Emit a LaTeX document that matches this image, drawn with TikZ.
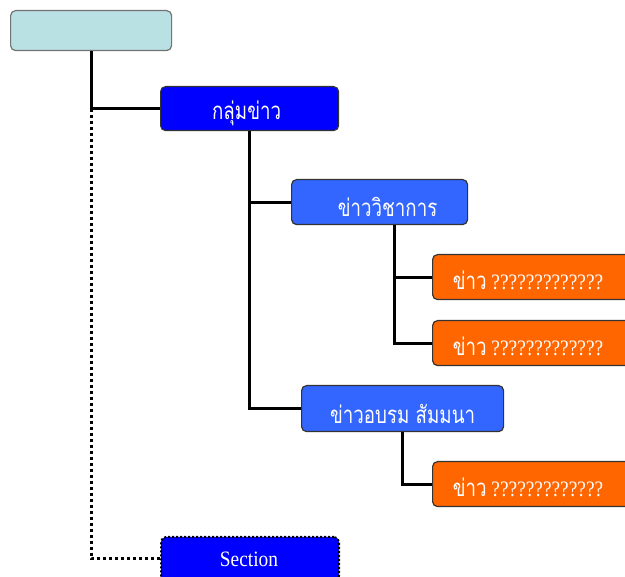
\documentclass[tikz,border=0pt]{standalone}
\usepackage{fontspec}
\setmainfont[FakeStretch=0.88]{Liberation Serif}
\newfontfamily\thai[Script=Thai,FakeStretch=0.78]{Loma}
\definecolor{lcyan}{HTML}{B9E0E3}
\definecolor{pblue}{HTML}{0000FF}
\definecolor{mblue}{HTML}{3366FF}
\definecolor{orng}{HTML}{FF6600}
\definecolor{bord}{HTML}{333333}
\tikzset{
  box/.style={draw=bord, line width=1.2pt, rounded corners=5pt, anchor=north west, inner sep=0pt, text=white},
  thtxt/.style={text=white, inner sep=0pt, font=\thai\fontsize{24}{26}\selectfont},
  oxtxt/.style={text=white, inner sep=0pt, font=\fontsize{22}{24}\selectfont},
  conn/.style={line width=3pt, black},
  dconn/.style={line width=3pt, black, dash pattern=on 3pt off 3pt},
}
\begin{document}
\begin{tikzpicture}[x=1pt,y=-1pt]
\useasboundingbox (0,0) rectangle (625,577);
\clip (0,0) rectangle (625,577);
\node[box, draw=gray!90!black, fill=lcyan, minimum width=161pt, minimum height=40pt] (top) at (10,10) {};
\node[box, fill=pblue, minimum width=178pt, minimum height=44pt] (grp) at (160,86) {};
\node[box, fill=mblue, minimum width=176pt, minimum height=45pt] (aca) at (291,179) {};
\node[box, fill=mblue, minimum width=202pt, minimum height=46pt] (trn) at (301,385) {};
\node[box, fill=orng, minimum width=200pt, minimum height=45pt] (o1) at (432,254) {};
\node[box, fill=orng, minimum width=200pt, minimum height=45pt] (o2) at (432,320) {};
\node[box, fill=orng, minimum width=200pt, minimum height=45pt] (o3) at (432,461) {};
\node[box, fill=pblue, draw=black, line width=2pt, dash pattern=on 2pt off 2pt, minimum width=178pt, minimum height=44pt] (sec) at (160,536) {};
\node[thtxt] (lg) at ([xshift=-3pt,yshift=-5pt]grp.center) {กลุ่มข่าว};
\node[thtxt] (la) at ([xshift=8pt,yshift=-5pt]aca.center) {ข่าววิชาการ};
\node[thtxt] (lt) at ([yshift=-5pt]trn.center) {ข่าวอบรม สัมมนา};
\node[oxtxt] (t1) at (528,280) {{\thai\fontsize{24}{26}\selectfont ข่าว} ?????????????};
\node[oxtxt] (t2) at (528,346) {{\thai\fontsize{24}{26}\selectfont ข่าว} ?????????????};
\node[oxtxt] (t3) at (528,487) {{\thai\fontsize{24}{26}\selectfont ข่าว} ?????????????};
\node[oxtxt] (ls) at ([xshift=-1pt]sec.center) {Section};
\coordinate (j1) at (top.south |- grp.west);
\draw[conn] (top.south) -- (j1) -- (grp.west);
\draw[dconn] (j1) |- (sec.west);
\draw[conn] (grp.south) |- (aca.west);
\draw[conn] (grp.south) |- (trn.west);
\coordinate (ab) at ([xshift=15pt]aca.south);
\draw[conn] (ab) |- (o1.west);
\draw[conn] (ab) |- (o2.west);
\draw[conn] (trn.south) |- (o3.west);
\end{tikzpicture}
\end{document}
